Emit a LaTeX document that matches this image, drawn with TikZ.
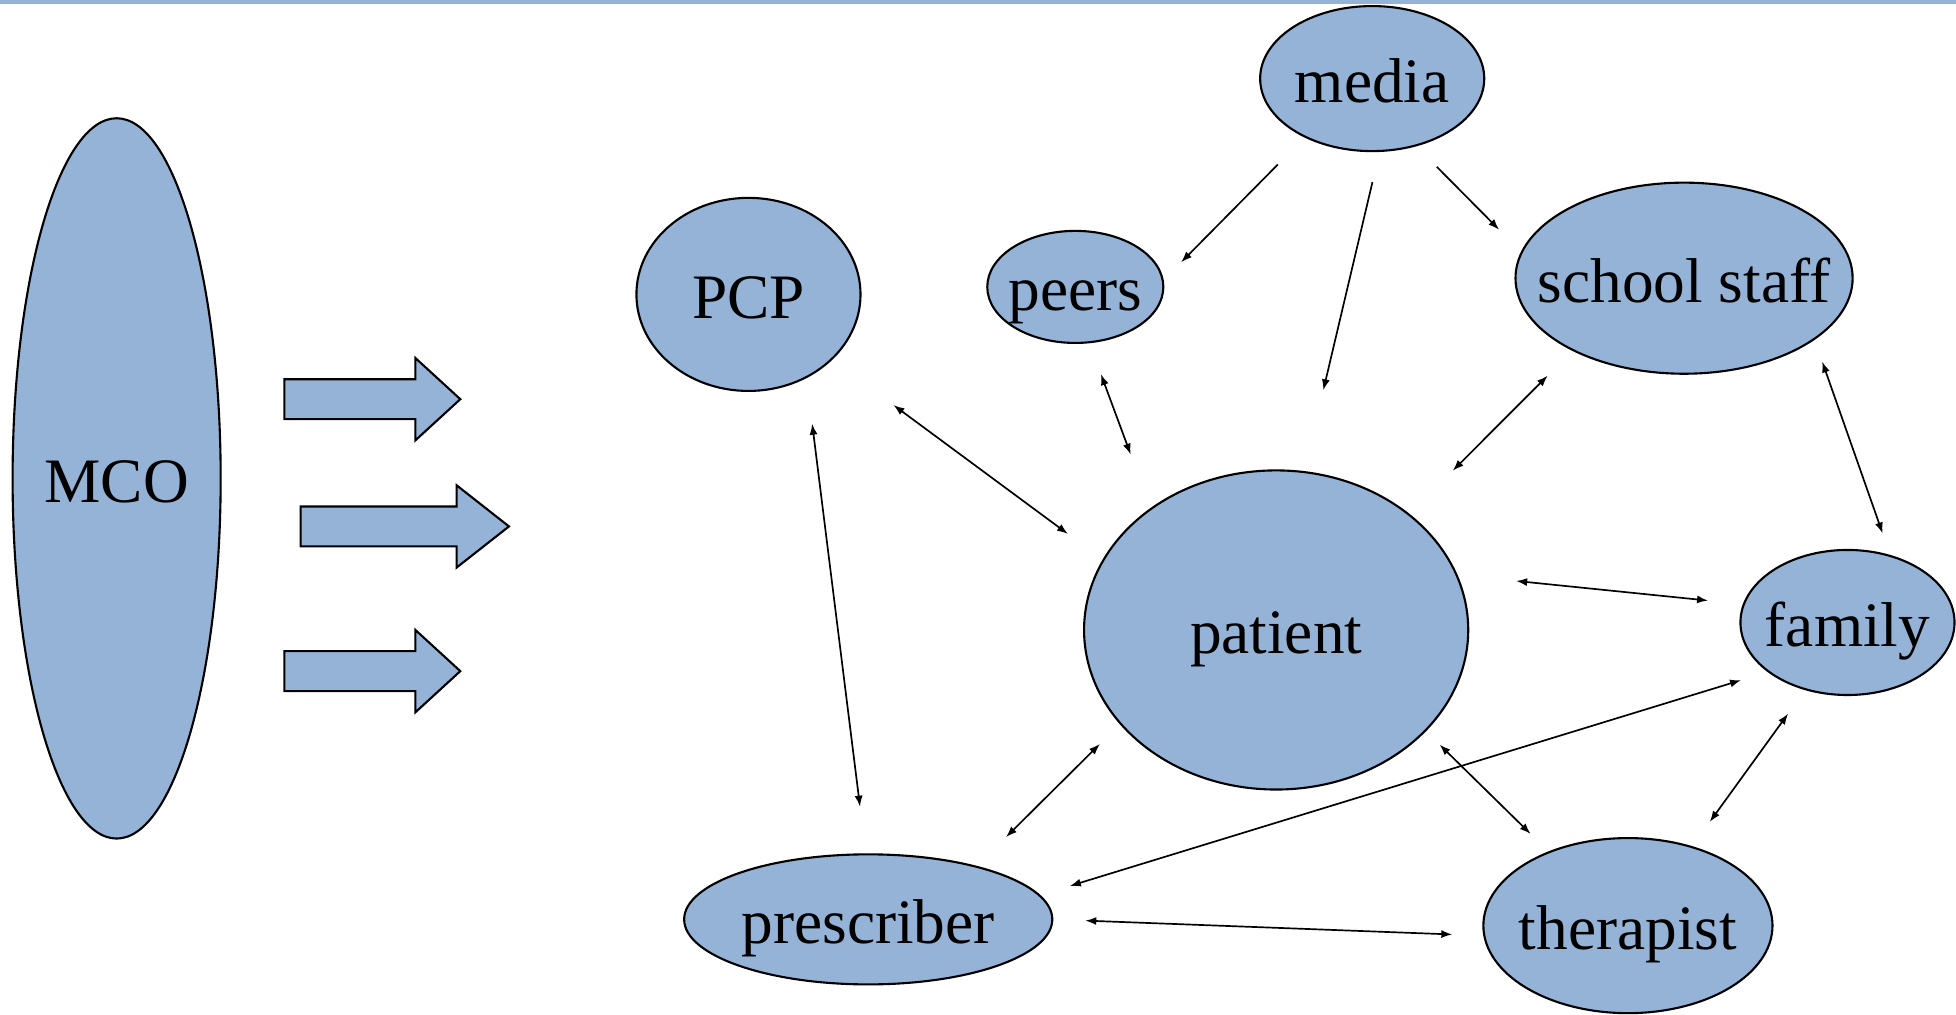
\documentclass[tikz,border=0pt]{standalone}
\usepackage{fontspec}
\setmainfont{Liberation Serif}
\usetikzlibrary{arrows.meta}
\usetikzlibrary{shapes.geometric}
\definecolor{PaleBlue}{HTML}{95B3D7}

\tikzset{
  bubble/.style={ellipse, draw, fill=PaleBlue, line width=0.6pt,
    inner sep=0pt, outer sep=0pt, font=\fontsize{18}{20}\selectfont,
    text height=5.6mm, text depth=0.8mm},
  link/.style={line width=0.48pt, -{Latex[length=1.1mm,width=0.8mm]}},
  twoway/.style={line width=0.48pt,
    {Latex[length=1.1mm,width=0.8mm]}-{Latex[length=1.1mm,width=0.8mm]}},
  blockarrow/.style={draw, fill=PaleBlue, line width=0.6pt, line join=miter}
}
\newcommand{\tag}[1]{\makebox[0pt]{#1}}

\begin{document}
\begin{tikzpicture}[x=0.1247mm,y=-0.1247mm]
  \useasboundingbox (0,0) rectangle (1568,813);
  \fill[PaleBlue] (0,0) rectangle (1568,3.5);

  \node[bubble, minimum width=20.8mm, minimum height=72mm] (mco) at (93.5,383.5) {\tag{MCO}};

  % the three fat arrows
  \foreach \a/\b/\c/\y in {228/333/369/320, 241/366/408/422, 228/333/369/538}
    \draw[blockarrow] (\a,\y-16) -- (\b,\y-16) -- (\b,\y-33) -- (\c,\y)
      -- (\b,\y+33) -- (\b,\y+16) -- (\a,\y+16) -- cycle;

  \node[bubble, minimum width=22.4mm, minimum height=14.5mm] (media) at (1100,63) {\tag{media}};
  \node[bubble, minimum width=22.4mm, minimum height=19.3mm] (pcp) at (600,236) {\tag{PCP}};
  \node[bubble, minimum width=17.6mm, minimum height=11.2mm] (peers) at (862,230) {\tag{peers}};
  \node[bubble, minimum width=33.7mm, minimum height=19.1mm] (school) at (1350,223) {\tag{school staff}};
  \node[bubble, minimum width=38.4mm, minimum height=31.9mm] (patient) at (1023,505) {\tag{patient}};
  \node[bubble, minimum width=21.4mm, minimum height=14.5mm] (family) at (1481,499) {\tag{family}};
  \node[bubble, minimum width=36.8mm, minimum height=13mm] (prescriber) at (696,737) {\tag{prescriber}};
  \node[bubble, minimum width=28.9mm, minimum height=17.5mm] (therapist) at (1305,742) {\tag{therapist}};

  % media reaches out
  \draw[link, shorten <=3.9mm, shorten >=2.6mm] (media.221) -- (peers.4);
  \draw[link, shorten <=3.2mm, shorten >=8.4mm] (media.276) -- (patient.80);
  \draw[link, shorten <=3.0mm, shorten >=3.2mm] (media.303) -- (school.171);

  % two-way links
  \draw[twoway, shorten <=7.7mm, shorten >=4.4mm] (pcp.322) -- (patient.158);
  \draw[twoway, shorten <=3.4mm, shorten >=5.8mm] (peers.284) -- (patient.136);
  \draw[twoway, shorten <=6.2mm, shorten >=3.6mm] (patient.41) -- (school.213);
  \draw[twoway, shorten <=2.4mm, shorten >=2.4mm] (school.335) -- (family.57);
  \draw[twoway, shorten <=6.0mm, shorten >=3.6mm] (patient.17) -- (family.170);
  \draw[twoway, shorten <=4.7mm, shorten >=4.8mm] (pcp.305) -- (prescriber.92);
  \draw[twoway, shorten <=2.9mm, shorten >=4.2mm] (patient.211) -- (prescriber.26);
  \draw[twoway, shorten <=3.2mm, shorten >=2.9mm] (prescriber.8) -- (family.212);
  \draw[twoway, shorten <=2.0mm, shorten >=2.6mm] (patient.326) -- (therapist.137);
  \draw[twoway, shorten <=3.0mm, shorten >=3.1mm] (family.238) -- (therapist.51);
  \draw[twoway, shorten <=3.3mm, shorten >=3.2mm] (prescriber.0) -- (therapist.184);
\end{tikzpicture}
\end{document}
